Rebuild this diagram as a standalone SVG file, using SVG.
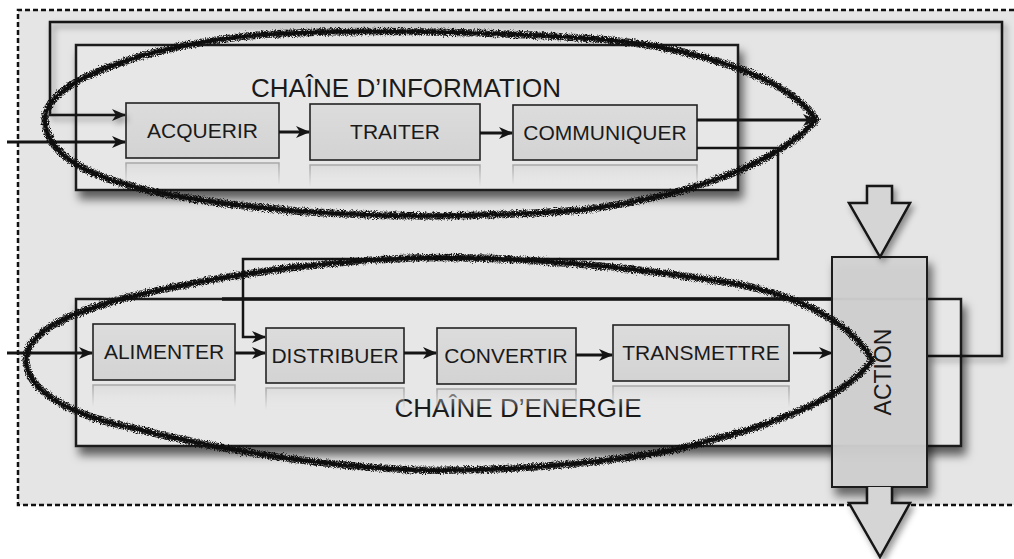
<svg xmlns="http://www.w3.org/2000/svg" width="1014" height="559" viewBox="0 0 1014 559">
  <style>
    .chain { fill: #e7e7e7; stroke: #1c1c1c; stroke-width: 2.5; }
    .step { fill: url(#stepFill); stroke: #222; stroke-width: 1.6; }
    .refl { fill: url(#reflFill); stroke: url(#reflStroke); stroke-width: 1.5; }
    .lbl { font-family: "Liberation Sans", Arial, sans-serif; font-size: 21px; fill: #1a1a1a; text-anchor: middle; }
    .title { font-family: "Liberation Sans", Arial, sans-serif; font-size: 26px; fill: #1a1a1a; text-anchor: middle; }
    .wire { fill: none; stroke: #141414; stroke-width: 3; }
    .thin { fill: none; stroke: #141414; stroke-width: 2.5; }
    .sketch { fill: none; stroke: #111; stroke-linejoin: round; }
    .block { fill: #d5d5d5; stroke: #151515; stroke-width: 2.5; stroke-linejoin: miter; }
  </style>
  <defs>
    <linearGradient id="stepFill" x1="0" y1="0" x2="0" y2="1">
      <stop offset="0" stop-color="#dcdcdc"/>
      <stop offset="1" stop-color="#d3d3d3"/>
    </linearGradient>
    <linearGradient id="reflFill" x1="0" y1="0" x2="0" y2="1">
      <stop offset="0" stop-color="#d6d6d6" stop-opacity="0.7"/>
      <stop offset="1" stop-color="#e7e7e7" stop-opacity="0"/>
    </linearGradient>
    <linearGradient id="reflStroke" x1="0" y1="0" x2="0" y2="1">
      <stop offset="0" stop-color="#a8a8a8" stop-opacity="1"/>
      <stop offset="1" stop-color="#a8a8a8" stop-opacity="0"/>
    </linearGradient>
    <filter id="shadowBig" x="-10%" y="-20%" width="125%" height="150%">
      <feDropShadow dx="4" dy="8" stdDeviation="5" flood-color="#000" flood-opacity="0.6"/>
    </filter>
    <filter id="shadowSmall" x="-20%" y="-20%" width="150%" height="150%">
      <feDropShadow dx="3" dy="4" stdDeviation="3" flood-color="#000" flood-opacity="0.4"/>
    </filter>
    <!-- wobbly pencil core -->
    <filter id="rough" x="-5%" y="-10%" width="110%" height="120%">
      <feTurbulence type="fractalNoise" baseFrequency="0.9" numOctaves="2" seed="7" result="noise"/>
      <feDisplacementMap in="SourceGraphic" in2="noise" scale="3" xChannelSelector="R" yChannelSelector="G"/>
    </filter>
    <!-- grainy pencil fringe -->
    <filter id="fuzz" x="-5%" y="-10%" width="110%" height="120%">
      <feTurbulence type="fractalNoise" baseFrequency="1.6" numOctaves="2" seed="4" result="noise"/>
      <feDisplacementMap in="SourceGraphic" in2="noise" scale="5" xChannelSelector="R" yChannelSelector="G" result="moved"/>
      <feTurbulence type="fractalNoise" baseFrequency="2.5" numOctaves="1" seed="2" result="grain"/>
      <feColorMatrix in="grain" type="matrix" values="0 0 0 0 0  0 0 0 0 0  0 0 0 0 0  0 0 0 -4 2.8" result="grainMask"/>
      <feComposite in="moved" in2="grainMask" operator="in"/>
    </filter>
    <marker id="arrow" viewBox="0 0 14 12" refX="13" refY="6" markerWidth="14" markerHeight="12" markerUnits="userSpaceOnUse" orient="auto">
      <path d="M0,0 L14,6 L0,12 L4,6 Z" fill="#141414"/>
    </marker>
    <path id="loopInfo" d="M816,120 C790,80 700,45 582,38 C480,31 330,29 259,35 C150,45 44,80 45,120 C46,160 100,185 200,200 C300,215 420,222 582,210 C700,195 780,160 816,120 Z"/>
    <path id="loopEnergie" d="M872,360 C850,320 790,290 711,280 C600,262 480,256 414,258 C300,262 200,280 129,297 C60,315 26,335 26,360 C26,390 70,415 129,427 C200,445 300,465 414,470 C520,472 650,460 711,440 C790,420 850,392 872,360 Z"/>
  </defs>

  <!-- system boundary -->
  <g id="boundary">
    <rect x="18" y="10" width="996" height="495" fill="#e5e5e5"/>
    <path d="M1014,10 H18 V505 H1014" fill="none" stroke="#111" stroke-width="2.5" stroke-dasharray="5,3"/>
  </g>

  <!-- information chain -->
  <g id="chaine-information">
    <rect class="chain" x="76" y="45" width="662" height="145" filter="url(#shadowBig)"/>
    <text class="title" x="406" y="97">CHAÎNE D’INFORMATION</text>
  </g>

  <!-- energy chain -->
  <g id="chaine-energie">
    <rect class="chain" x="76" y="299" width="885" height="147" filter="url(#shadowBig)"/>
    <line x1="222" y1="299" x2="833" y2="299" stroke="#141414" stroke-width="3.5"/>
    <text class="title" x="518" y="417">CHAÎNE D’ENERGIE</text>
  </g>

  <g id="acquerir">
    <rect class="refl" x="126" y="163" width="153" height="22"/>
    <rect class="step" x="126" y="103" width="153" height="55"/>
    <text class="lbl" x="202.5" y="138">ACQUERIR</text>
  </g>
  <g id="traiter">
    <rect class="refl" x="310" y="165" width="170" height="22"/>
    <rect class="step" x="310" y="104" width="170" height="56"/>
    <text class="lbl" x="395" y="139">TRAITER</text>
  </g>
  <g id="communiquer">
    <rect class="refl" x="513" y="165" width="184" height="20"/>
    <rect class="step" x="513" y="105" width="184" height="55"/>
    <text class="lbl" x="605" y="140">COMMUNIQUER</text>
  </g>

  <g id="alimenter">
    <rect class="refl" x="93" y="385" width="142" height="22"/>
    <rect class="step" x="93" y="324" width="142" height="56"/>
    <text class="lbl" x="164" y="359">ALIMENTER</text>
  </g>
  <g id="distribuer">
    <rect class="refl" x="266" y="388" width="138" height="22"/>
    <rect class="step" x="266" y="328" width="138" height="55"/>
    <text class="lbl" x="335" y="363">DISTRIBUER</text>
  </g>
  <g id="convertir">
    <rect class="refl" x="437" y="389" width="139" height="22"/>
    <rect class="step" x="437" y="328" width="139" height="56"/>
    <text class="lbl" x="506" y="363">CONVERTIR</text>
  </g>
  <g id="transmettre">
    <rect class="refl" x="613" y="386" width="176" height="22"/>
    <rect class="step" x="613" y="325" width="176" height="56"/>
    <text class="lbl" x="701" y="360">TRANSMETTRE</text>
  </g>

  <!-- connectors -->
  <g id="connectors">
    <!-- feedback from the action back to acquisition -->
    <path class="thin" d="M927,356 H1002 V22 H50 V115 H125" marker-end="url(#arrow)" filter="url(#shadowSmall)"/>
    <!-- external inputs -->
    <path class="wire" d="M7,142 H125" marker-end="url(#arrow)"/>
    <path class="wire" d="M7,353 H92" marker-end="url(#arrow)"/>
    <!-- information flow -->
    <path class="wire" d="M279,132 H309" marker-end="url(#arrow)"/>
    <path class="wire" d="M480,133 H512" marker-end="url(#arrow)"/>
    <path class="wire" d="M697,120 H816" marker-end="url(#arrow)"/>
    <!-- order sent to the energy chain -->
    <path class="thin" d="M697,148 H778 V259 H243 V337 H265" marker-end="url(#arrow)"/>
    <!-- energy flow -->
    <path class="wire" d="M235,353 H265" marker-end="url(#arrow)"/>
    <path class="wire" d="M404,353 H436" marker-end="url(#arrow)"/>
    <path class="wire" d="M576,355 H612" marker-end="url(#arrow)"/>
    <path class="thin" d="M793,353 H832" marker-end="url(#arrow)"/>
  </g>

  <!-- action block with its input and output -->
  <g id="action">
    <rect x="832" y="257" width="95" height="230" fill="#d3d3d3" fill-opacity="0.92" stroke="#1c1c1c" stroke-width="2" filter="url(#shadowBig)"/>
    <text class="title" style="font-size:23px" transform="translate(891,372) rotate(-90)">ACTION</text>
  </g>
  <g id="entree-action">
    <path class="block" d="M867,186 H892 V203 H910 L880,257 L849,203 H867 Z" filter="url(#shadowSmall)"/>
  </g>
  <g id="sortie-action">
    <path class="block" d="M867,487 V503 H849 L880,557 L910,503 H892 V487" filter="url(#shadowSmall)"/>
  </g>

  <!-- hand-drawn loops around each chain -->
  <g id="entourage-information">
    <use href="#loopInfo" class="sketch" stroke-width="7.5" filter="url(#fuzz)"/>
    <use href="#loopInfo" class="sketch" stroke-width="3.5" filter="url(#rough)"/>
  </g>
  <g id="entourage-energie">
    <use href="#loopEnergie" class="sketch" stroke-width="7.5" filter="url(#fuzz)"/>
    <use href="#loopEnergie" class="sketch" stroke-width="3.5" filter="url(#rough)"/>
  </g>
</svg>
